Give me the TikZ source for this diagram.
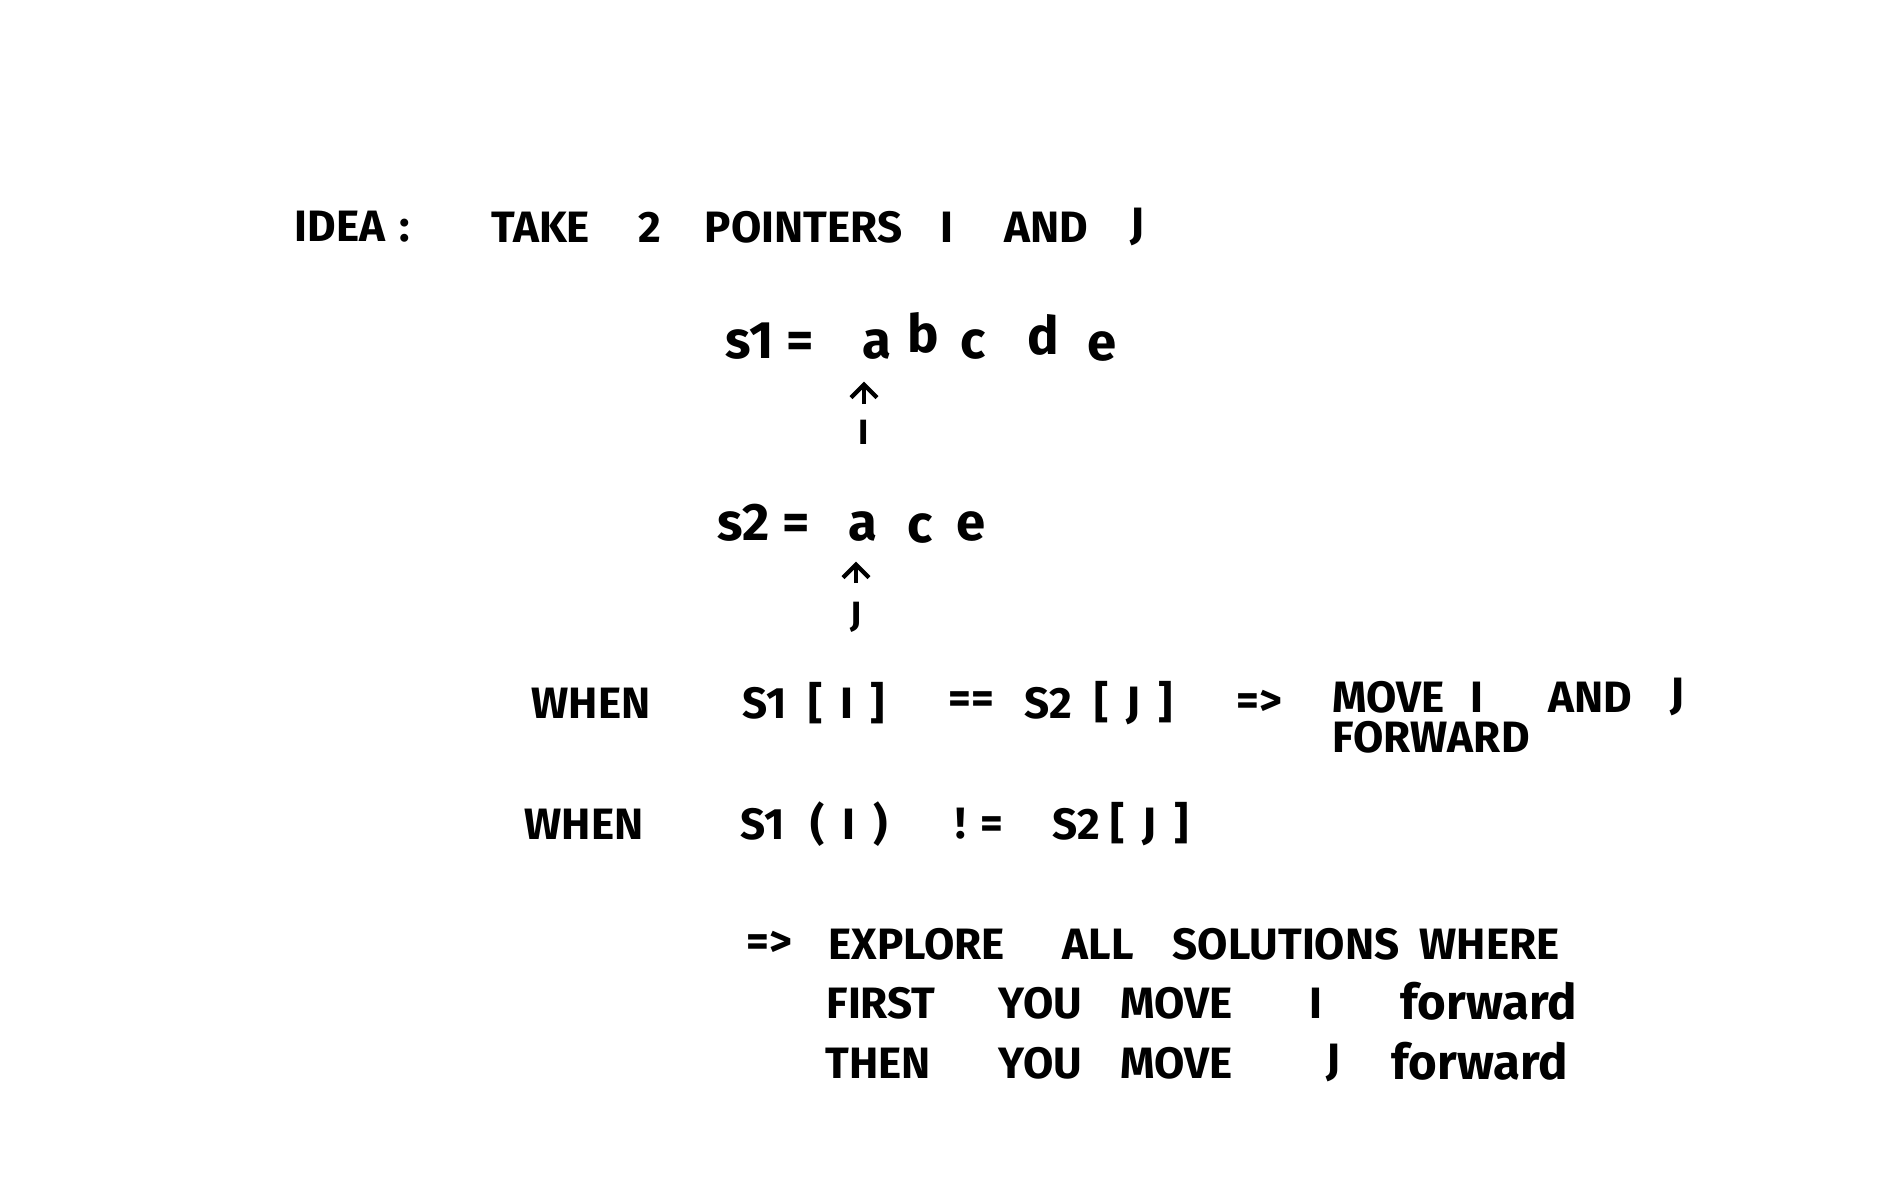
\documentclass[tikz,border=0pt]{standalone}
\usepackage{fontspec}
\setmainfont{Fira Sans}
\usepackage{tikz}
\usetikzlibrary{arrows.meta,positioning}

\newcommand{\gap}{\hspace{5pt}}

\begin{document}
\begin{tikzpicture}[
  x=0.1mm, y=-0.1mm,
  word/.style={anchor=west, inner sep=0pt, font=\fontsize{12.5}{15}\selectfont\bfseries},
  letter/.style={anchor=base west, inner sep=0pt, font=\fontsize{15}{18}\selectfont\bfseries},
  ptr/.style={anchor=center, inner sep=0pt, font=\fontsize{10}{12}\selectfont\bfseries},
  >={Straight Barb[length=1.3mm, width=2.6mm, line width=1.2pt]}
]
\fill[white] (0,0) rectangle (1900,1200);

% Idea line
\node[word] (idea) at (294,227) {IDEA\,\,:};
\node[word] (take) at (491,227) {TAKE};
\node[word] (two) at (638,227) {2};
\node[word] (ptrs) at (704,227) {POINTERS};
\node[word] (iname) at (940,227) {I};
\node[word] (and) at (1004,227) {AND};
\node[word] (jname) at (1130,227) {J};

% s1 with pointer I
\node[letter] (s1) at (725,358) {s1 =};
\node[letter] (s1a) at (862,358) {a};
\node[letter] (s1b) at (907,352) {b};
\node[letter] (s1c) at (960,358) {c};
\node[letter] (s1d) at (1027,354) {d};
\node[letter] (s1e) at (1087,360) {e};
\node[ptr] (ilbl) at (864,432) {I};
\draw[->, line width=1.2pt] ([yshift=1.5mm]ilbl.north) -- ([yshift=-2.2mm]ilbl.north |- s1a.south);

% s2 with pointer J
\node[letter] (s2) at (717,540) {s2 =};
\node[letter] (s2a) at (848,540) {a};
\node[letter] (s2c) at (907,542) {c};
\node[letter] (s2e) at (956,540) {e};
\node[ptr] (jlbl) at (856,617) {J};
\draw[->, line width=1.2pt] ([yshift=1.8mm]jlbl.north) -- ([yshift=-2mm]jlbl.north |- s2a.south);

% equal case
\node[word] (when1) at (531,703) {WHEN};
\node[word] (eqs1) at (742,703) {S1};
\node[word] (eqi) at (808,703) {[\gap I\gap]};
\node[word] (eqop) at (948,703) {==};
\node[word] (eqs2) at (1024,703) {S2};
\node[word] (eqj) at (1094,703) {[\gap J\gap]};
\node[word] (eqimp) at (1236,703) {=>};
\node[word] (move1) at (1332,697) {MOVE};
\node[word] (mvi) at (1470,697) {I};
\node[word] (mvand) at (1548,697) {AND};
\node[word] (mvj) at (1670,697) {J};
\node[word] (fwd1) at (1332,737) {FORWARD};

% not equal case
\node[word] (when2) at (524,824) {WHEN};
\node[word] (nes1) at (740,824) {S1};
\node[word] (nei) at (810,824) {(\gap I\gap)};
\node[word] (neop) at (955,824) {!\,\,=};
\node[word] (nes2) at (1052,824) {S2};
\node[word] (nej) at (1110,824) {[\gap J\gap]};

\node[word] (neimp) at (746,944) {=>};
\node[word] (explore) at (828,944) {EXPLORE};
\node[word] (all) at (1062,944) {ALL};
\node[word] (sols) at (1172,944) {SOLUTIONS};
\node[word] (where) at (1419,944) {WHERE};

\node[word] (first) at (826,1003) {FIRST};
\node[word] (you1) at (998,1003) {YOU};
\node[word] (move2) at (1120,1003) {MOVE};
\node[word] (fi) at (1309,1003) {I};
\node[word, font=\fontsize{14}{16}\selectfont\bfseries] (fwd2) at (1400,1001) {forward};

\node[word] (then) at (825,1063) {THEN};
\node[word] (you2) at (998,1063) {YOU};
\node[word] (move3) at (1120,1063) {MOVE};
\node[word] (tj) at (1326,1063) {J};
\node[word, font=\fontsize{14}{16}\selectfont\bfseries] (fwd3) at (1391,1061) {forward};
\end{tikzpicture}
\end{document}
